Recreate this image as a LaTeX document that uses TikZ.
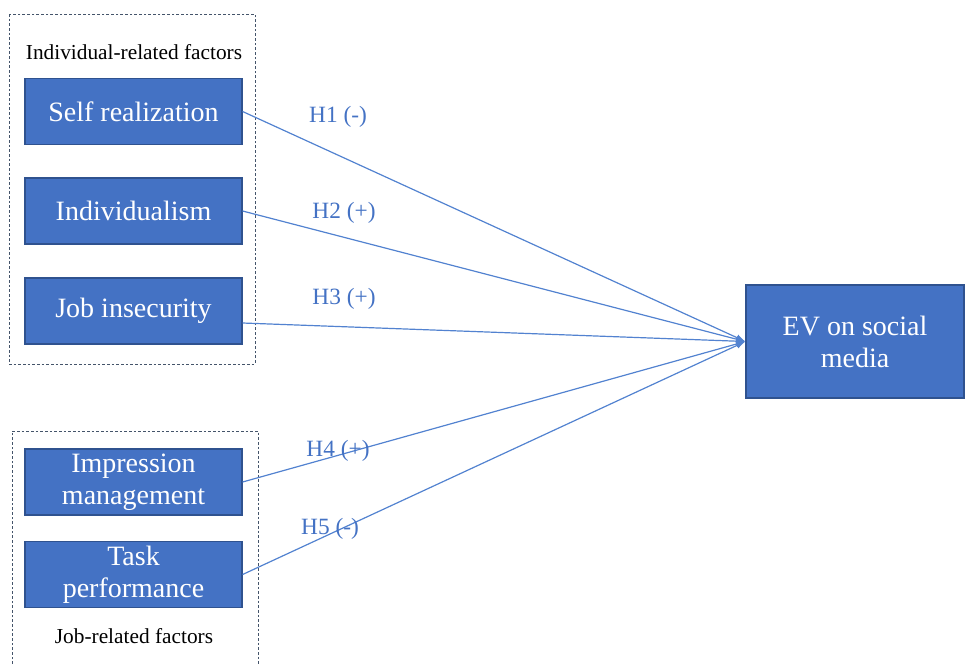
\documentclass[tikz,border=0pt]{standalone}
\usepackage{fontspec}
\setmainfont{Liberation Serif}
\usetikzlibrary{arrows.meta}
\definecolor{boxblue}{HTML}{4472C4}
\definecolor{boxedge}{HTML}{2F528F}
\definecolor{dashgrey}{HTML}{44546A}
\definecolor{linkblue}{HTML}{5282D0}
\begin{document}
\begin{tikzpicture}[x=0.75pt,y=-0.75pt,
  factor/.style={draw=boxedge,line width=0.9pt,fill=boxblue,text=white,
    minimum width=217*0.75pt,minimum height=66*0.75pt,inner sep=0pt,
    align=center,font=\fontsize{21}{24}\selectfont},
  grouplbl/.style={font=\fontsize{16}{19}\selectfont,text=black,inner sep=0pt},
  hyp/.style={font=\fontsize{17.5}{20}\selectfont,text=boxblue,inner sep=0pt},
  link/.style={draw=linkblue,line width=0.9pt,-{Latex[length=7pt,width=5pt]}},
  grp/.style={draw=dashgrey,line width=0.7pt,dash pattern=on 2pt off 1.5pt}]
\useasboundingbox (0,0) rectangle (966,664);
% groups
\draw[grp] (9,14) rectangle (255,364);
\draw[grp] (12,664) -- (12,431) -- (258,431) -- (258,664);
\node[grouplbl] (g1) at (134,52) {Individual-related factors};
\node[grouplbl] (g2) at (134,636) {Job-related factors};
% factors
\node[factor] (sr) at (133.5,111.5) {Self realization};
\node[factor] (ind) at (133.5,211) {Individualism};
\node[factor] (ji) at (133.5,311) {Job insecurity};
\node[factor] (im) at (133.5,482) {Impression\\management};
\node[factor] (tp) at (133.5,574.5) {Task\\performance};
\node[factor,minimum width=218*0.75pt,minimum height=113*0.75pt] (ev) at (855,341.5) {EV on social\\media};
% links
\draw[link] (sr.east) -- (ev.west);
\draw[link] (ind.east) -- (ev.west);
\draw[link] ([yshift=-12*0.75pt]ji.east) -- (ev.west);
\draw[link] (im.east) -- (ev.west);
\draw[link] (tp.east) -- (ev.west);
% hypotheses
\node[hyp] (h1) at (338,117) {H1 (-)};
\node[hyp] (h2) at (344,213) {H2 (+)};
\node[hyp] (h3) at (344,299) {H3 (+)};
\node[hyp] (h4) at (338,451) {H4 (+)};
\node[hyp] (h5) at (330,529) {H5 (-)};
\end{tikzpicture}
\end{document}
